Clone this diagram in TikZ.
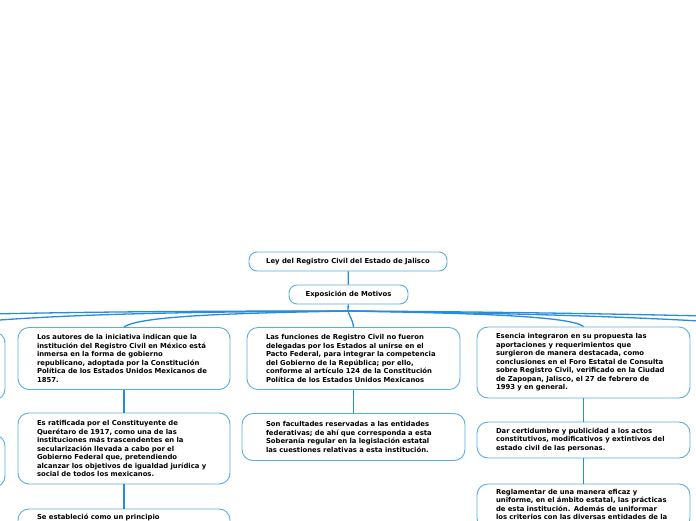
\documentclass[tikz,border=0pt]{standalone}
\usepackage{fontspec}
\newfontfamily\mapfont{DejaVu Sans}
\usepackage{tikz}
\definecolor{boxblue}{RGB}{90,172,230}
\definecolor{linkblue}{RGB}{38,140,220}

\begin{document}
\begin{tikzpicture}[
      x=1pt, y=-1pt,
      font=\mapfont\bfseries\fontsize{6.85}{8.5}\selectfont,
      topic/.style={draw=boxblue, line width=0.9pt, rounded corners=11pt, fill=white,
        align=left, inner ysep=0pt, inner xsep=19pt},
      head/.style={topic, align=center, rounded corners=8pt, inner xsep=0pt},
      link/.style={draw=linkblue, line width=1.3pt},
    ]
    \clip (0,0) rectangle (696,520);
    % central topics
    \node[head, minimum width=198pt, minimum height=19pt] (ley) at (348,261.5)
      {Ley del Registro Civil del Estado de Jalisco};
    \node[head, minimum width=119pt, minimum height=19pt] (expo) at (348.5,294.5)
      {Exposición de Motivos};
    \coordinate (hub) at (348,311);
    % left columns
    \node[topic, text width=174pt, minimum height=68pt] (outa) at (-101,366) {};
    \node[topic, text width=174pt, minimum height=52pt] (outb) at (-101,461) {};
    \node[topic, text width=174pt, minimum height=62pt] (autores) at (124,358.5)
      {Los autores de la iniciativa indican que la\\
       institución del Registro Civil en México está\\
       inmersa en la forma de gobierno\\
       republicano, adoptada por la Constitución\\
       Política de los Estados Unidos Mexicanos de\\
       1857.};
    \node[topic, text width=174pt, minimum height=71pt] (ratif) at (124,448.5)
      {Es ratificada por el Constituyente de\\
       Querétaro de 1917, como una de las\\
       instituciones más trascendentes en la\\
       secularización llevada a cabo por el\\
       Gobierno Federal que, pretendiendo\\
       alcanzar los objetivos de igualdad jurídica y\\
       social de todos los mexicanos.};
    \node[topic, text width=174pt, inner ysep=5pt, text depth=50pt, anchor=north] (princ) at (124,508.5)
      {Se estableció como un principio};
    % center column
    \node[topic, text width=175pt, minimum height=62pt] (funciones) at (353.5,358.5)
      {Las funciones de Registro Civil no fueron\\
       delegadas por los Estados al unirse en el\\
       Pacto Federal, para integrar la competencia\\
       del Gobierno de la República; por ello,\\
       conforme al artículo 124 de la Constitución\\
       Política de los Estados Unidos Mexicanos};
    \node[topic, text width=175pt, inner xsep=24pt, minimum height=47pt] (facult) at (353.5,437)
      {Son facultades reservadas a las entidades\\
       federativas; de ahí que corresponda a esta\\
       Soberanía regular en la legislación estatal\\
       las cuestiones relativas a esta institución.};
    % right column
    \node[topic, text width=175pt, minimum height=71pt] (esencia) at (583.5,362.5)
      {Esencia integraron en su propuesta las\\
       aportaciones y requerimientos que\\
       surgieron de manera destacada, como\\
       conclusiones en el Foro Estatal de Consulta\\
       sobre Registro Civil, verificado en la Ciudad\\
       de Zapopan, Jalisco, el 27 de febrero de\\
       1993 y en general.};
    \node[topic, text width=175pt, minimum height=36pt] (certid) at (583.5,440)
      {Dar certidumbre y publicidad a los actos\\
       constitutivos, modificativos y extintivos del\\
       estado civil de las personas.};
    \node[topic, text width=175pt, inner ysep=5pt, text depth=30pt, anchor=north] (reglam) at (583.5,483.5)
      {Reglamentar de una manera eficaz y\\
       uniforme, en el ámbito estatal, las prácticas\\
       de esta institución. Además de uniformar\\
       los criterios con las diversas entidades de la};
    \coordinate (farleft) at (-330,330);
    \coordinate (farright) at (1040,330);
    \coordinate (offright) at (812,330);
    % connectors
    \draw[link] (ley) -- (expo);
    \draw[link] (expo) -- (hub);
    \draw[link] (hub) .. controls (350,318) and (353,320) .. (funciones.north);
    \draw[link] (hub) .. controls (250,313) and (140,315) .. (autores.north);
    \draw[link] (hub) .. controls (200,312) and (0,313) .. (outa.north);
    \draw[link] (hub) .. controls (150,311) and (-150,312) .. (farleft);
    \draw[link] (hub) .. controls (450,313) and (570,315) .. (esencia.north);
    \draw[link] (hub) .. controls (500,313) and (700,317) .. (offright);
    \draw[link] (hub) .. controls (560,312) and (900,318) .. (farright);
    \draw[link] (autores) -- (ratif);
    \draw[link] (ratif) -- (princ);
    \draw[link] (outa) -- (outb);
    \draw[link] (funciones) -- (facult);
    \draw[link] (esencia) -- (certid);
    \draw[link] (certid) -- (reglam);
  \end{tikzpicture}
\end{document}
